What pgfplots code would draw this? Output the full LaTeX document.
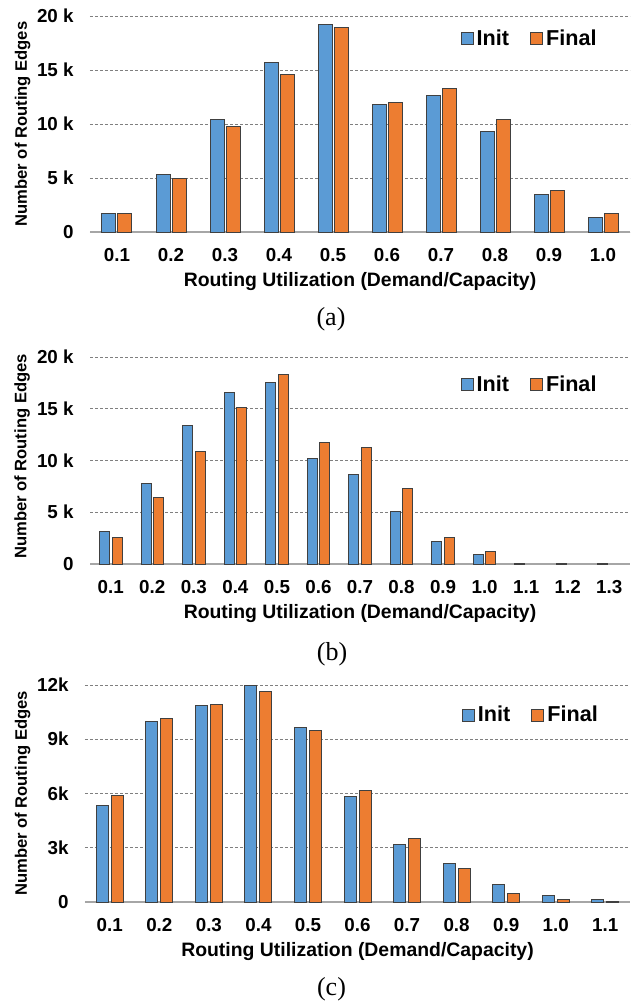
\documentclass[border=0pt]{standalone}
\usepackage{pgfplots}
\pgfplotsset{compat=1.18}
\usetikzlibrary{calc}
\usepackage{fontspec}
\setmainfont{Liberation Sans}
\newfontfamily\capfont{Liberation Serif}
\definecolor{cInit}{HTML}{5B9BD5}
\definecolor{cFinal}{HTML}{ED7D31}
\definecolor{cEdge}{HTML}{404040}
\definecolor{cAxis}{HTML}{A6A6A6}
\definecolor{cGrid}{HTML}{7F7F7F}

\pgfplotsset{
 util/.style={
  scale only axis, clip=false,
  ybar,
  ymin=0,
  axis x line*=bottom, axis y line*=left,
  y axis line style={draw=none},
  x axis line style={draw=cAxis, line width=1pt},
  major tick length=0pt,
  ymajorgrids, grid style={cGrid, line width=0.4pt, dash pattern=on 1.5pt off 1pt},
  /pgf/number format/assume math mode=true,
  tick label style={font=\fontsize{9.4}{11}\selectfont\bfseries, inner sep=0pt},
  xticklabel shift=8pt, yticklabel shift=8pt,
  xlabel={Routing Utilization (Demand/Capacity)},
  ylabel={Number of Routing Edges},
  xlabel style={font=\fontsize{9.7}{12}\selectfont\bfseries, at={($(axis description cs:0.5,0)+(0,-25pt)$)}, anchor=center},
  legend style={draw=none, fill=none, inner sep=0pt, anchor=center,
    font=\fontsize{10.8}{13}\selectfont\bfseries,
    nodes={inner sep=1.5pt},
    /tikz/every even column/.append style={column sep=9pt}},
  legend columns=2,
 },
 sqlegend/.style={legend image code/.code={\draw[fill=##1, draw=cEdge, line width=0.5pt] (0pt,-3pt) rectangle (6pt,3pt);}},
 binit/.style={fill=cInit, draw=cEdge, line width=0.5pt, legend image code/.code={\draw[fill=cInit, draw=cEdge, line width=0.5pt] (0pt,-3pt) rectangle (6pt,3pt);}},
 bfinal/.style={fill=cFinal, draw=cEdge, line width=0.5pt, legend image code/.code={\draw[fill=cFinal, draw=cEdge, line width=0.5pt] (0pt,-3pt) rectangle (6pt,3pt);}},
}

\begin{document}
\begin{tikzpicture}
% (a)
\begin{axis}[util,
  at={(45pt,-116pt)}, anchor=south west,
  width=270pt, height=108pt,
  xmin=-0.5, xmax=9.5, xtick={0,...,9},
  xticklabels={0.1,0.2,0.3,0.4,0.5,0.6,0.7,0.8,0.9,1.0},
  ymax=20, ytick={0,5,10,15,20}, yticklabels={0,5 k,10 k,15 k,20 k},
  bar width=7pt, ybar=1pt,
  ylabel style={font=\fontsize{8.3}{10}\selectfont\bfseries, at={($(axis description cs:0,0.5)+(-33.75pt,0)$)}, anchor=center},
  legend style={at={(rel axis cs:0.815,0.894)}},
]
\addplot[binit] coordinates {(0,1.73) (1,5.30) (2,10.43) (3,15.74) (4,19.23) (5,11.82) (6,12.65) (7,9.32) (8,3.49) (9,1.33)};
\addplot[bfinal] coordinates {(0,1.73) (1,4.97) (2,9.78) (3,14.57) (4,18.95) (5,12.00) (6,13.27) (7,10.43) (8,3.83) (9,1.70)};
\legend{Init,Final}
\end{axis}
% (b)
\begin{axis}[util,
  at={(45pt,-282pt)}, anchor=south west,
  width=270pt, height=103.5pt,
  xmin=-0.5, xmax=12.5, xtick={0,...,12},
  xticklabels={0.1,0.2,0.3,0.4,0.5,0.6,0.7,0.8,0.9,1.0,1.1,1.2,1.3},
  ymax=20, ytick={0,5,10,15,20}, yticklabels={0,5 k,10 k,15 k,20 k},
  bar width=5pt, ybar=1.3pt,
  ylabel style={font=\fontsize{8.3}{10}\selectfont\bfseries, at={($(axis description cs:0,0.5)+(-34pt,2pt)$)}, anchor=center},
  legend style={at={(rel axis cs:0.815,0.866)}},
]
\addplot[binit] coordinates {(0,3.15) (1,7.78) (2,13.37) (3,16.59) (4,17.55) (5,10.19) (6,8.65) (7,5.08) (8,2.22) (9,0.93) (10,0.05) (11,0.04) (12,0.04)};
\addplot[bfinal] coordinates {(0,2.57) (1,6.43) (2,10.87) (3,15.10) (4,18.35) (5,11.73) (6,11.22) (7,7.33) (8,2.57) (9,1.19)};
\legend{Init,Final}
\end{axis}
% (c)
\begin{axis}[util,
  at={(42.5pt,-451pt)}, anchor=south west,
  width=272.5pt, height=108.5pt,
  xmin=-0.5, xmax=10.5, xtick={0,...,10},
  xticklabels={0.1,0.2,0.3,0.4,0.5,0.6,0.7,0.8,0.9,1.0,1.1},
  ymax=12, ytick={0,3,6,9,12}, yticklabels={0,3k,6k,9k,12k},
  bar width=6pt, ybar=1.5pt,
  ylabel style={font=\fontsize{8.3}{10}\selectfont\bfseries, at={($(axis description cs:0,0.5)+(-31.25pt,0)$)}, anchor=center},
  legend style={at={(rel axis cs:0.819,0.861)}},
]
\addplot[binit] coordinates {(0,5.33) (1,9.99) (2,10.87) (3,12.00) (4,9.67) (5,5.81) (6,3.19) (7,2.12) (8,0.96) (9,0.37) (10,0.13)};
\addplot[bfinal] coordinates {(0,5.91) (1,10.15) (2,10.95) (3,11.65) (4,9.49) (5,6.18) (6,3.51) (7,1.83) (8,0.48) (9,0.15) (10,0.04)};
\legend{Init,Final}
\end{axis}
\node[font=\capfont\fontsize{13}{15}\selectfont, inner sep=0pt] at (165.5pt,-159.5pt) {(a)};
\node[font=\capfont\fontsize{13}{15}\selectfont, inner sep=0pt] at (166pt,-327.3pt) {(b)};
\node[font=\capfont\fontsize{13}{15}\selectfont, inner sep=0pt] at (165.75pt,-494.5pt) {(c)};
\pgfresetboundingbox
\useasboundingbox (0,0) rectangle (319pt,-500.5pt);
\end{tikzpicture}
\end{document}
